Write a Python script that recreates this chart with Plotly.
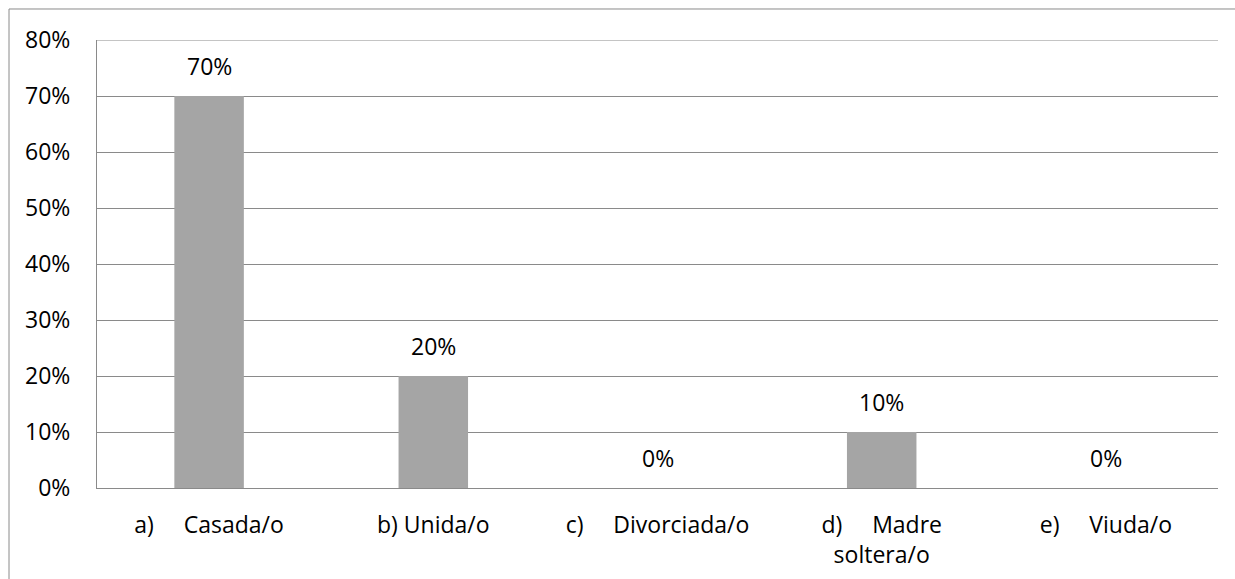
import plotly.graph_objects as go

NB = "\u00a0"

# Marital status categories and their shares
categories = ["a)", "b)", "c)", "d)", "e)"]
tick_labels = [
    "a)" + NB * 5 + "Casada/o",
    "b) Unida/o",
    "c)" + NB * 5 + "Divorciada/o",
    "d)" + NB * 5 + "Madre<br>soltera/o",
    "e)" + NB * 5 + "Viuda/o",
]
values = [0.70, 0.20, 0.0, 0.10, 0.0]
y_ticks = [0.0, 0.1, 0.2, 0.3, 0.4, 0.5, 0.6, 0.7, 0.8]
y_max = 0.8

FONT = "Open Sans"
FSIZE = 23
GRID = "#8a8a8a"

fig = go.Figure(
    go.Bar(
        x=categories,
        y=values,
        marker=dict(color="#a5a5a5", line=dict(width=0)),
        width=0.31,
        hoverinfo="skip",
    )
)

# Value labels above each bar
for c, v in zip(categories, values):
    fig.add_annotation(
        x=c, y=v, text=f"{v:.0%}", showarrow=False,
        yanchor="bottom", yshift=12,
        font=dict(family=FONT, size=FSIZE, color="#000000"),
    )

# Top gridline at the upper end of the range
fig.add_shape(type="line", xref="paper", yref="y",
              x0=0, y0=y_max, x1=1, y1=y_max,
              line=dict(color=GRID, width=1), layer="below")

# Outer chart frame
frame_x = -0.0785
frame_y = 1.0692
fig.add_shape(type="line", xref="paper", yref="paper",
              x0=frame_x, y0=frame_y, x1=1.2, y1=frame_y,
              line=dict(color=GRID, width=1))
fig.add_shape(type="line", xref="paper", yref="paper",
              x0=frame_x, y0=frame_y, x1=frame_x, y1=-0.5,
              line=dict(color=GRID, width=1))

fig.update_layout(
    width=1235, height=579,
    margin=dict(l=97, r=17, t=40, b=91),
    paper_bgcolor="white", plot_bgcolor="white",
    showlegend=False,
    font=dict(family=FONT, size=FSIZE, color="#000000"),
    xaxis=dict(
        tickvals=categories, ticktext=tick_labels,
        showline=True, linecolor=GRID, linewidth=1,
        showgrid=False, ticks="", automargin=False,
        ticklabelstandoff=16,
        tickfont=dict(family=FONT, size=FSIZE),
    ),
    yaxis=dict(
        range=[0, y_max], tickvals=y_ticks, tickformat=".0%",
        showgrid=True, gridcolor=GRID, gridwidth=1,
        showline=True, linecolor=GRID, linewidth=1,
        zeroline=False, ticks="", automargin=False,
        ticklabelstandoff=21,
        tickfont=dict(family=FONT, size=FSIZE),
    ),
)

fig.write_html("out.html")
